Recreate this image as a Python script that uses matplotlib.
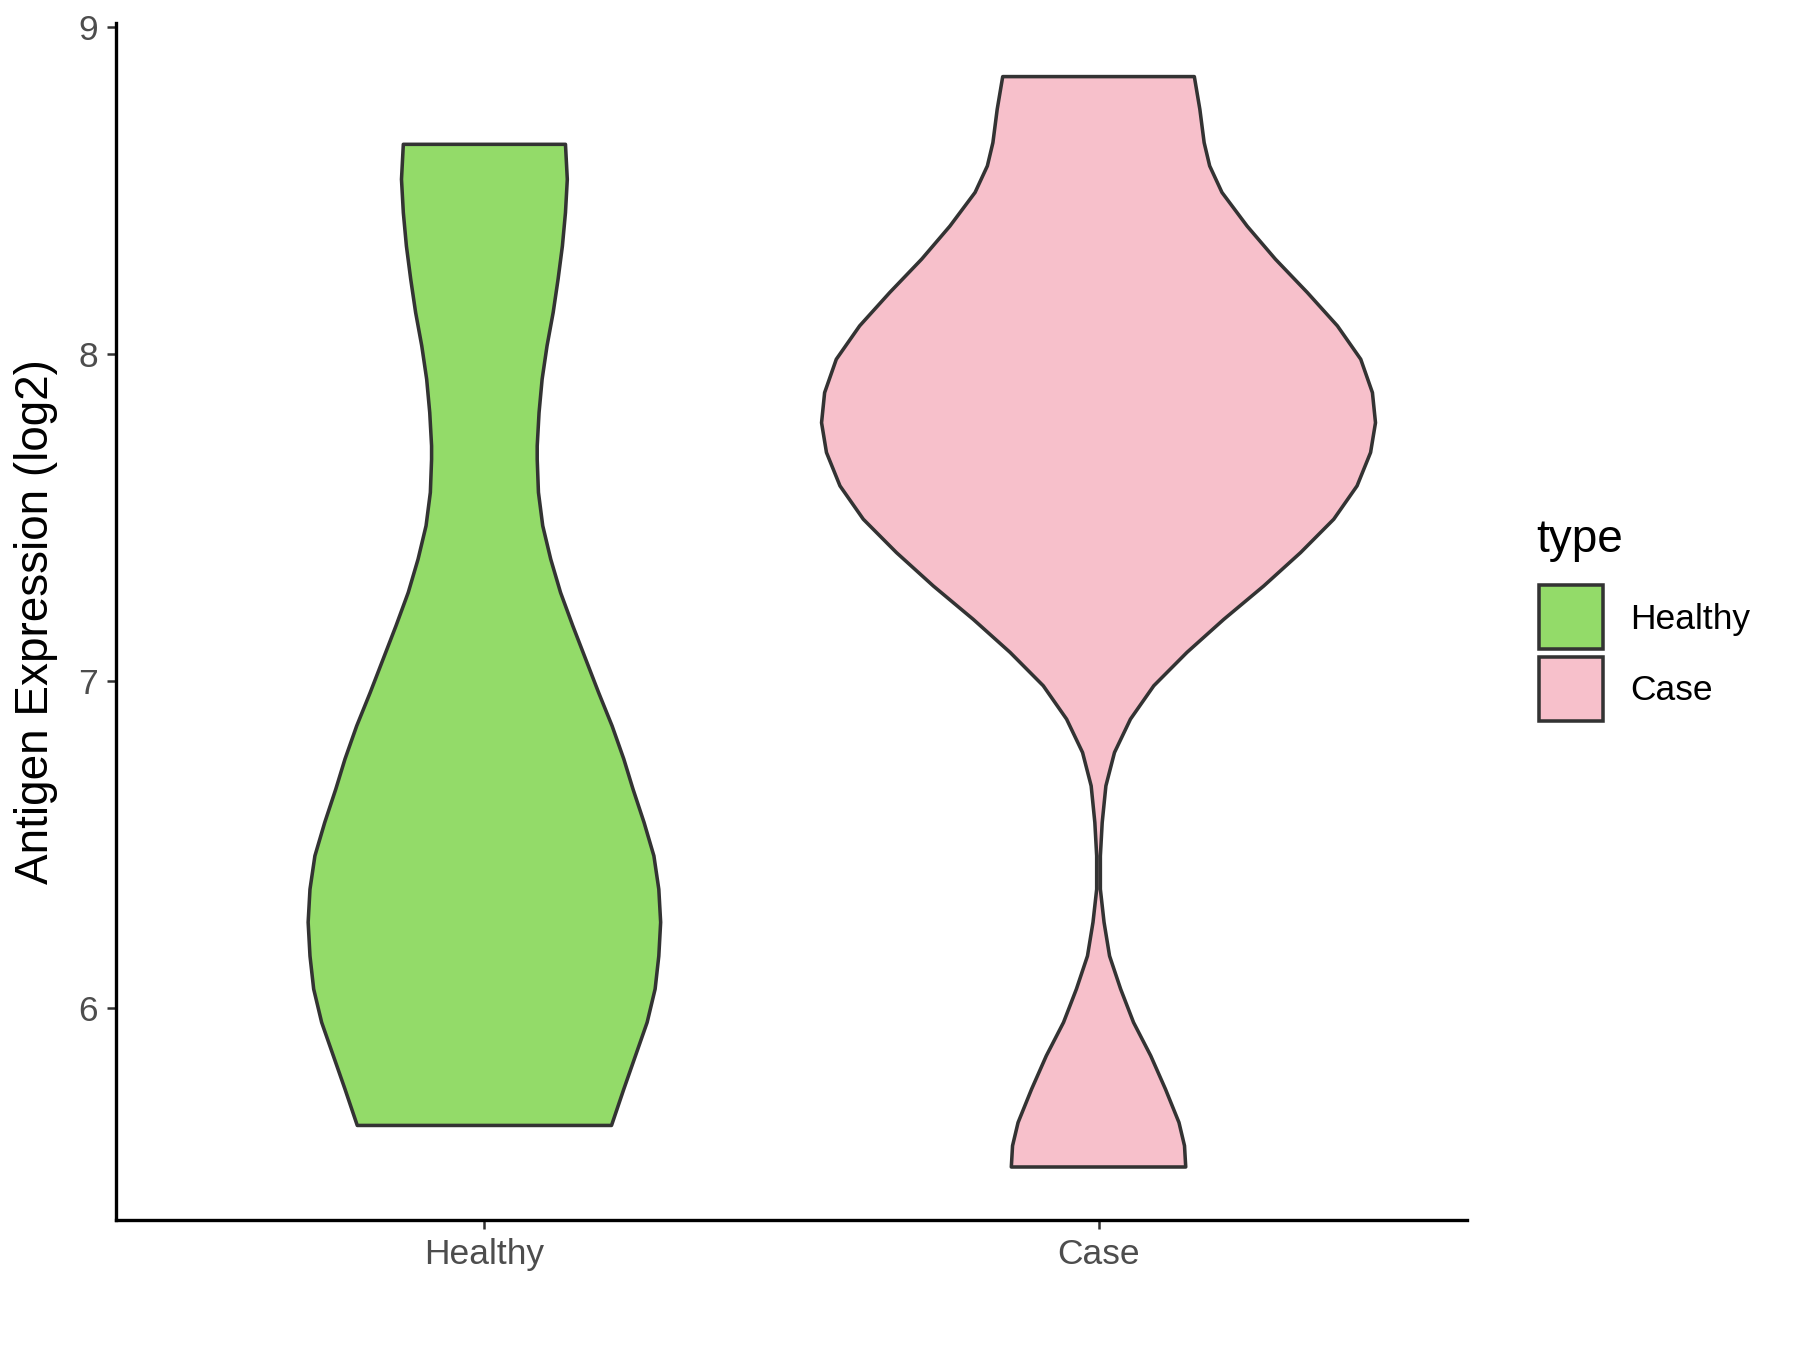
import matplotlib.pyplot as plt
from matplotlib.patches import Rectangle
import numpy as np

plt.rcParams['font.family'] = ['Liberation Sans', 'DejaVu Sans']

groups = ['Healthy', 'Case']
colors = ['#93DB69', '#F7C0CB']

# violin outlines: y value and half width (x units)
healthy_y = [8.641, 8.534, 8.432, 8.330, 8.229, 8.127, 8.025, 7.923, 7.821, 7.719,
             7.678, 7.577, 7.475, 7.373, 7.271, 7.169, 7.067, 6.965, 6.863, 6.762,
             6.670, 6.568, 6.466, 6.364, 6.263, 6.160, 6.059, 5.957, 5.855, 5.753,
             5.642]
healthy_w = [0.132, 0.135, 0.132, 0.127, 0.120, 0.112, 0.102, 0.094, 0.089, 0.086,
             0.086, 0.088, 0.095, 0.108, 0.124, 0.144, 0.165, 0.186, 0.208, 0.227,
             0.242, 0.260, 0.276, 0.284, 0.287, 0.284, 0.278, 0.265, 0.246, 0.227,
             0.207]

case_y = [8.848, 8.748, 8.646, 8.575, 8.494, 8.391, 8.290, 8.188, 8.086, 7.984,
          7.882, 7.790, 7.699, 7.597, 7.495, 7.393, 7.291, 7.189, 7.088, 6.986,
          6.884, 6.782, 6.680, 6.568, 6.466, 6.364, 6.263, 6.160, 6.059, 5.957,
          5.855, 5.753, 5.651, 5.580, 5.515]
case_w = [0.156, 0.165, 0.172, 0.181, 0.201, 0.242, 0.288, 0.340, 0.389, 0.427,
          0.446, 0.451, 0.443, 0.421, 0.383, 0.329, 0.269, 0.204, 0.144, 0.090,
          0.052, 0.026, 0.012, 0.006, 0.003, 0.003, 0.009, 0.018, 0.036, 0.057,
          0.085, 0.109, 0.131, 0.140, 0.142]

profiles = [(healthy_y, healthy_w), (case_y, case_w)]

fig = plt.figure(figsize=(12, 9), dpi=150)
ax = fig.add_axes([0.0644, 0.0963, 0.7506, 0.8867])

for i, (ys, ws) in enumerate(profiles):
    ys = np.array(ys)
    ws = np.array(ws)
    pos = i + 1
    xs = np.concatenate([pos - ws, (pos + ws)[::-1]])
    yy = np.concatenate([ys, ys[::-1]])
    ax.fill(xs, yy, facecolor=colors[i], edgecolor='#333333', linewidth=1.7,
            joinstyle='round')

ax.set_xlim(0.4, 2.6)
ax.set_ylim(5.353, 9.012)
ax.set_xticks([1, 2])
ax.set_xticklabels(groups)
ax.set_yticks([6, 7, 8, 9])
ax.tick_params(length=4.5, width=1.2, color='#333333', labelcolor='#4D4D4D',
               labelsize=17, pad=4)
ax.set_ylabel('Antigen Expression (log2)', fontsize=22, color='black', labelpad=10)
for s in ['top', 'right']:
    ax.spines[s].set_visible(False)
for s in ['left', 'bottom']:
    ax.spines[s].set_linewidth(1.6)
    ax.spines[s].set_color('black')

# legend drawn by hand, ggplot style
fig.text(1536 / 1800, 1 - 540 / 1350, 'type', fontsize=22, va='center', ha='left')
key_tops = [585, 657]
for k, (lab, col) in enumerate(zip(groups, colors)):
    top = key_tops[k]
    fig.patches.append(Rectangle((1539 / 1800, 1 - (top + 64) / 1350), 64 / 1800, 64 / 1350,
                                 transform=fig.transFigure, facecolor=col,
                                 edgecolor='#333333', linewidth=1.7))
    fig.text(1630 / 1800, 1 - (top + 34) / 1350, lab, fontsize=17, va='center', ha='left')

fig.savefig('out.png', dpi=150)
